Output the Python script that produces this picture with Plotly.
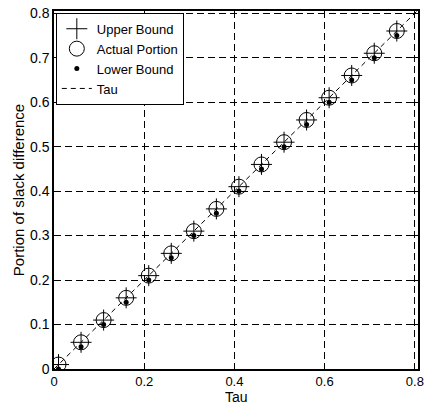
import plotly.graph_objects as go

tau_pts = [0.01, 0.06, 0.11, 0.16, 0.21, 0.26, 0.31, 0.36, 0.41, 0.46, 0.51, 0.56, 0.61, 0.66, 0.71, 0.76]
upper_bound = [0.01, 0.06, 0.11, 0.16, 0.21, 0.26, 0.31, 0.36, 0.41, 0.46, 0.51, 0.56, 0.61, 0.66, 0.71, 0.76]
actual_portion = [0.01, 0.06, 0.11, 0.16, 0.21, 0.26, 0.31, 0.36, 0.41, 0.46, 0.51, 0.56, 0.61, 0.66, 0.71, 0.76]
lower_bound = [0.0, 0.05, 0.10, 0.15, 0.20, 0.25, 0.30, 0.35, 0.40, 0.45, 0.50, 0.55, 0.60, 0.65, 0.70, 0.75]
tau_line_x = [0.0, 0.81]
tau_line_y = [0.0, 0.81]
x_ticks = [0, 0.2, 0.4, 0.6, 0.8]
x_tick_labels = ["0", "0.2", "0.4", "0.6", "0.8"]
y_ticks = [0, 0.1, 0.2, 0.3, 0.4, 0.5, 0.6, 0.7, 0.8]
y_tick_labels = ["0", "0.1", "0.2", "0.3", "0.4", "0.5", "0.6", "0.7", "0.8"]

FONT = "Liberation Sans, Arial, sans-serif"

fig = go.Figure()
fig.add_trace(go.Scatter(x=tau_pts, y=upper_bound, mode="markers", name="Upper Bound",
                         marker=dict(symbol="cross-thin", size=15, line=dict(color="black", width=1))))
fig.add_trace(go.Scatter(x=tau_pts, y=actual_portion, mode="markers", name="Actual Portion",
                         marker=dict(symbol="circle-open", size=15, color="black", line=dict(color="black", width=1))))
fig.add_trace(go.Scatter(x=tau_pts, y=lower_bound, mode="markers", name="Lower Bound",
                         marker=dict(symbol="circle", size=5, color="black")))
fig.add_trace(go.Scatter(x=tau_line_x, y=tau_line_y, mode="lines", name="Tau",
                         line=dict(color="black", width=1, dash="5px,4px")))

axis_common = dict(
    showline=True, linecolor="black", linewidth=1.5, mirror="ticks",
    ticks="inside", ticklen=5, tickcolor="black",
    showgrid=True, gridcolor="black", gridwidth=1, griddash="7px,4px",
    zeroline=False, tickfont=dict(family=FONT, size=14, color="black"),
    automargin=False, ticklabeloverflow="allow",
)

fig.update_layout(
    width=424, height=405,
    margin=dict(l=54, r=6, t=11, b=36),
    paper_bgcolor="white", plot_bgcolor="white",
    font=dict(family=FONT, size=15, color="black"),
    xaxis=dict(range=[0, 0.807], tickvals=x_ticks, ticktext=x_tick_labels,
               tickfont=dict(family=FONT, size=13, color="black"),
               **{k: v for k, v in axis_common.items() if k != "tickfont"}),
    yaxis=dict(range=[0, 0.805], tickvals=y_ticks, ticktext=y_tick_labels,
               title=dict(text="Portion of slack difference", font=dict(family=FONT, size=15), standoff=2),
               **axis_common),
    legend=dict(x=0.005, y=0.995, xanchor="left", yanchor="top",
                bgcolor="white", bordercolor="black", borderwidth=1,
                font=dict(family=FONT, size=13), tracegroupgap=0, itemwidth=30),
    showlegend=True,
    annotations=[dict(text="Tau", xref="paper", yref="paper", x=0.5, y=0,
                      xanchor="center", yanchor="middle", yshift=-28, showarrow=False,
                      font=dict(family=FONT, size=14, color="black"))],
)

fig.write_html("out.html", config={"displayModeBar": False},
               post_script="document.body.style.margin='0';document.body.style.overflow='hidden';")
